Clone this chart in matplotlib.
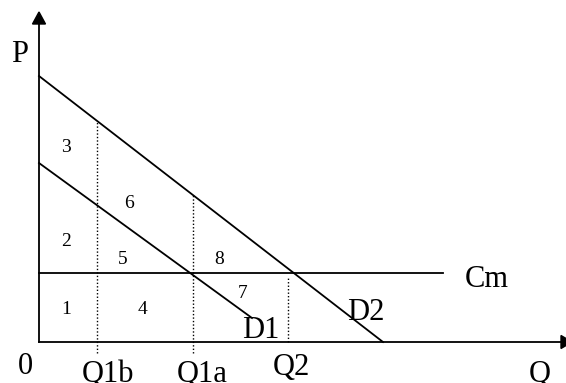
import matplotlib
matplotlib.use("Agg")
import matplotlib.pyplot as plt

# demand / cost values (arbitrary units, origin at 0,0)
d1_q = [0, 213]
d1_p = [179, 24]
d2_q = [0, 344]
d2_p = [266, 0]
cm_q = [0, 404]
cm_p = [69, 69]

q_marks = [58, 154, 249]
q_labels = ["Q1b", "Q1a", "Q2"]

area_labels = ["1", "2", "3", "4", "5", "6", "7", "8"]
area_x = [27, 27, 27, 104, 84, 90, 204, 180]
area_y = [33, 101, 194, 33, 83, 138, 49, 82]

x_max = 527
y_max = 330

plt.rcParams["font.family"] = ["Liberation Serif", "DejaVu Serif"]

fig = plt.figure(figsize=(5.66, 3.83), dpi=100)
ax = fig.add_axes([0, 0, 1, 1])
ax.set_xlim(-39, 527)
ax.set_ylim(-41, 342)
ax.axis("off")

lw = 1.3

# axes with arrows
ax.plot([0, 0], [0, y_max - 10], color="black", lw=lw)
ax.plot([0, x_max], [0, 0], color="black", lw=lw)
ax.fill([-6.5, 6.5, 0], [y_max - 12, y_max - 12, y_max], color="black")
ax.fill([x_max - 5, x_max - 5, x_max + 6], [-6.5, 6.5, 0], color="black",
        clip_on=False)

# curves
ax.plot(d1_q, d1_p, color="black", lw=lw)
ax.plot(d2_q, d2_p, color="black", lw=lw)
ax.plot(cm_q, cm_p, color="black", lw=lw)

# dotted guides
slope2 = (d2_p[1] - d2_p[0]) / (d2_q[1] - d2_q[0])
for i, q in enumerate(q_marks):
    if i < 2:
        top = d2_p[0] + slope2 * q
        bottom = -11
    else:
        top = cm_p[0] - 5
        bottom = 0
    ax.plot([q, q], [bottom, top], color="black", lw=1.0, ls=(0, (1, 1.5)))

big = 22
ax.text(-19, 280, "P", fontsize=big, ha="center", va="baseline")
ax.text(-14, -32, "0", fontsize=big, ha="center", va="baseline")
q_text_x = [43, 138, 234]
q_text_y = [-40, -40, -33]
for lab, tx, ty in zip(q_labels, q_text_x, q_text_y):
    ax.text(tx, ty, lab, fontsize=big, ha="left", va="baseline")
ax.text(490, -40, "Q", fontsize=big, ha="left", va="baseline")
ax.text(426, 55, "Cm", fontsize=big, ha="left", va="baseline")
ax.text(203, 4, "D1", fontsize=big, ha="left", va="baseline")
ax.text(308, 22, "D2", fontsize=big, ha="left", va="baseline")

for lab, tx, ty in zip(area_labels, area_x, area_y):
    ax.text(tx, ty, lab, fontsize=14, ha="center", va="center")

fig.savefig("out.png", dpi=100)
